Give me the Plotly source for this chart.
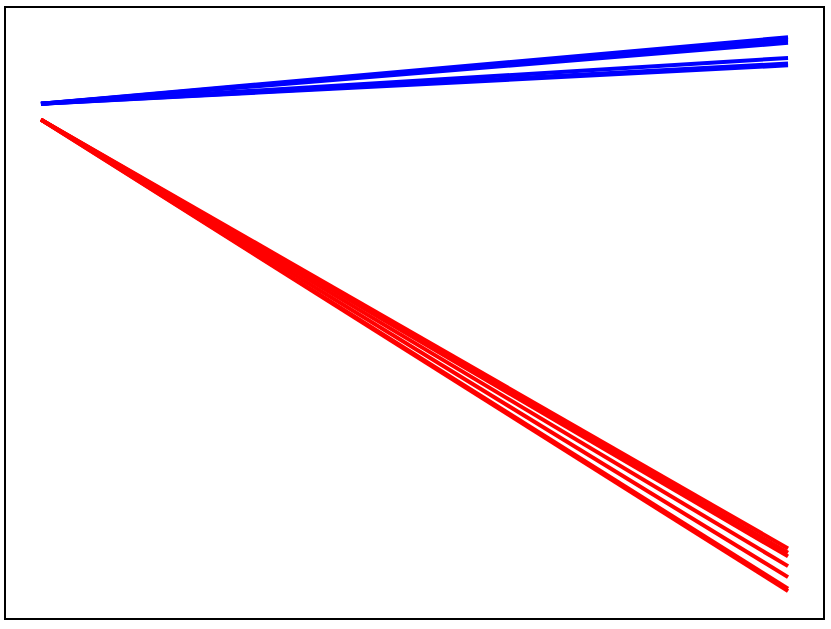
import plotly.graph_objects as go

# x positions of the two measurement points
x_points = [0, 1]

# blue series: start and end values
blue_start = [84.3, 84.3, 84.3, 84.3, 84.3, 84.3]
blue_end = [95.2, 94.8, 94.3, 91.8, 90.9, 90.6]

# red series: start and end values
red_start = [81.7, 81.7, 81.7, 81.7, 81.7, 81.7, 81.7]
red_end = [11.4, 10.7, 10.1, 8.5, 6.7, 4.8, 4.4]

fig = go.Figure()
for s, e in zip(blue_start, blue_end):
    fig.add_trace(go.Scatter(x=x_points, y=[s, e], mode="lines",
                             line=dict(color="#0000ff", width=4),
                             showlegend=False, hoverinfo="skip"))
for s, e in zip(red_start, red_end):
    fig.add_trace(go.Scatter(x=x_points, y=[s, e], mode="lines",
                             line=dict(color="#ff0000", width=4),
                             showlegend=False, hoverinfo="skip"))

axis_common = dict(showgrid=False, zeroline=False, showticklabels=False,
                   ticks="", showline=True, mirror=True,
                   linecolor="black", linewidth=2)
fig.update_xaxes(range=[-0.0468, 1.0468], **axis_common)
fig.update_yaxes(range=[0, 100], **axis_common)

fig.update_layout(width=831, height=629,
                  margin=dict(l=6, r=7, t=6, b=11),
                  paper_bgcolor="white", plot_bgcolor="white")

fig.write_html("out.html",
               config={"displayModeBar": False},
               post_script="document.body.style.margin='0px';document.body.style.overflow='hidden';")
